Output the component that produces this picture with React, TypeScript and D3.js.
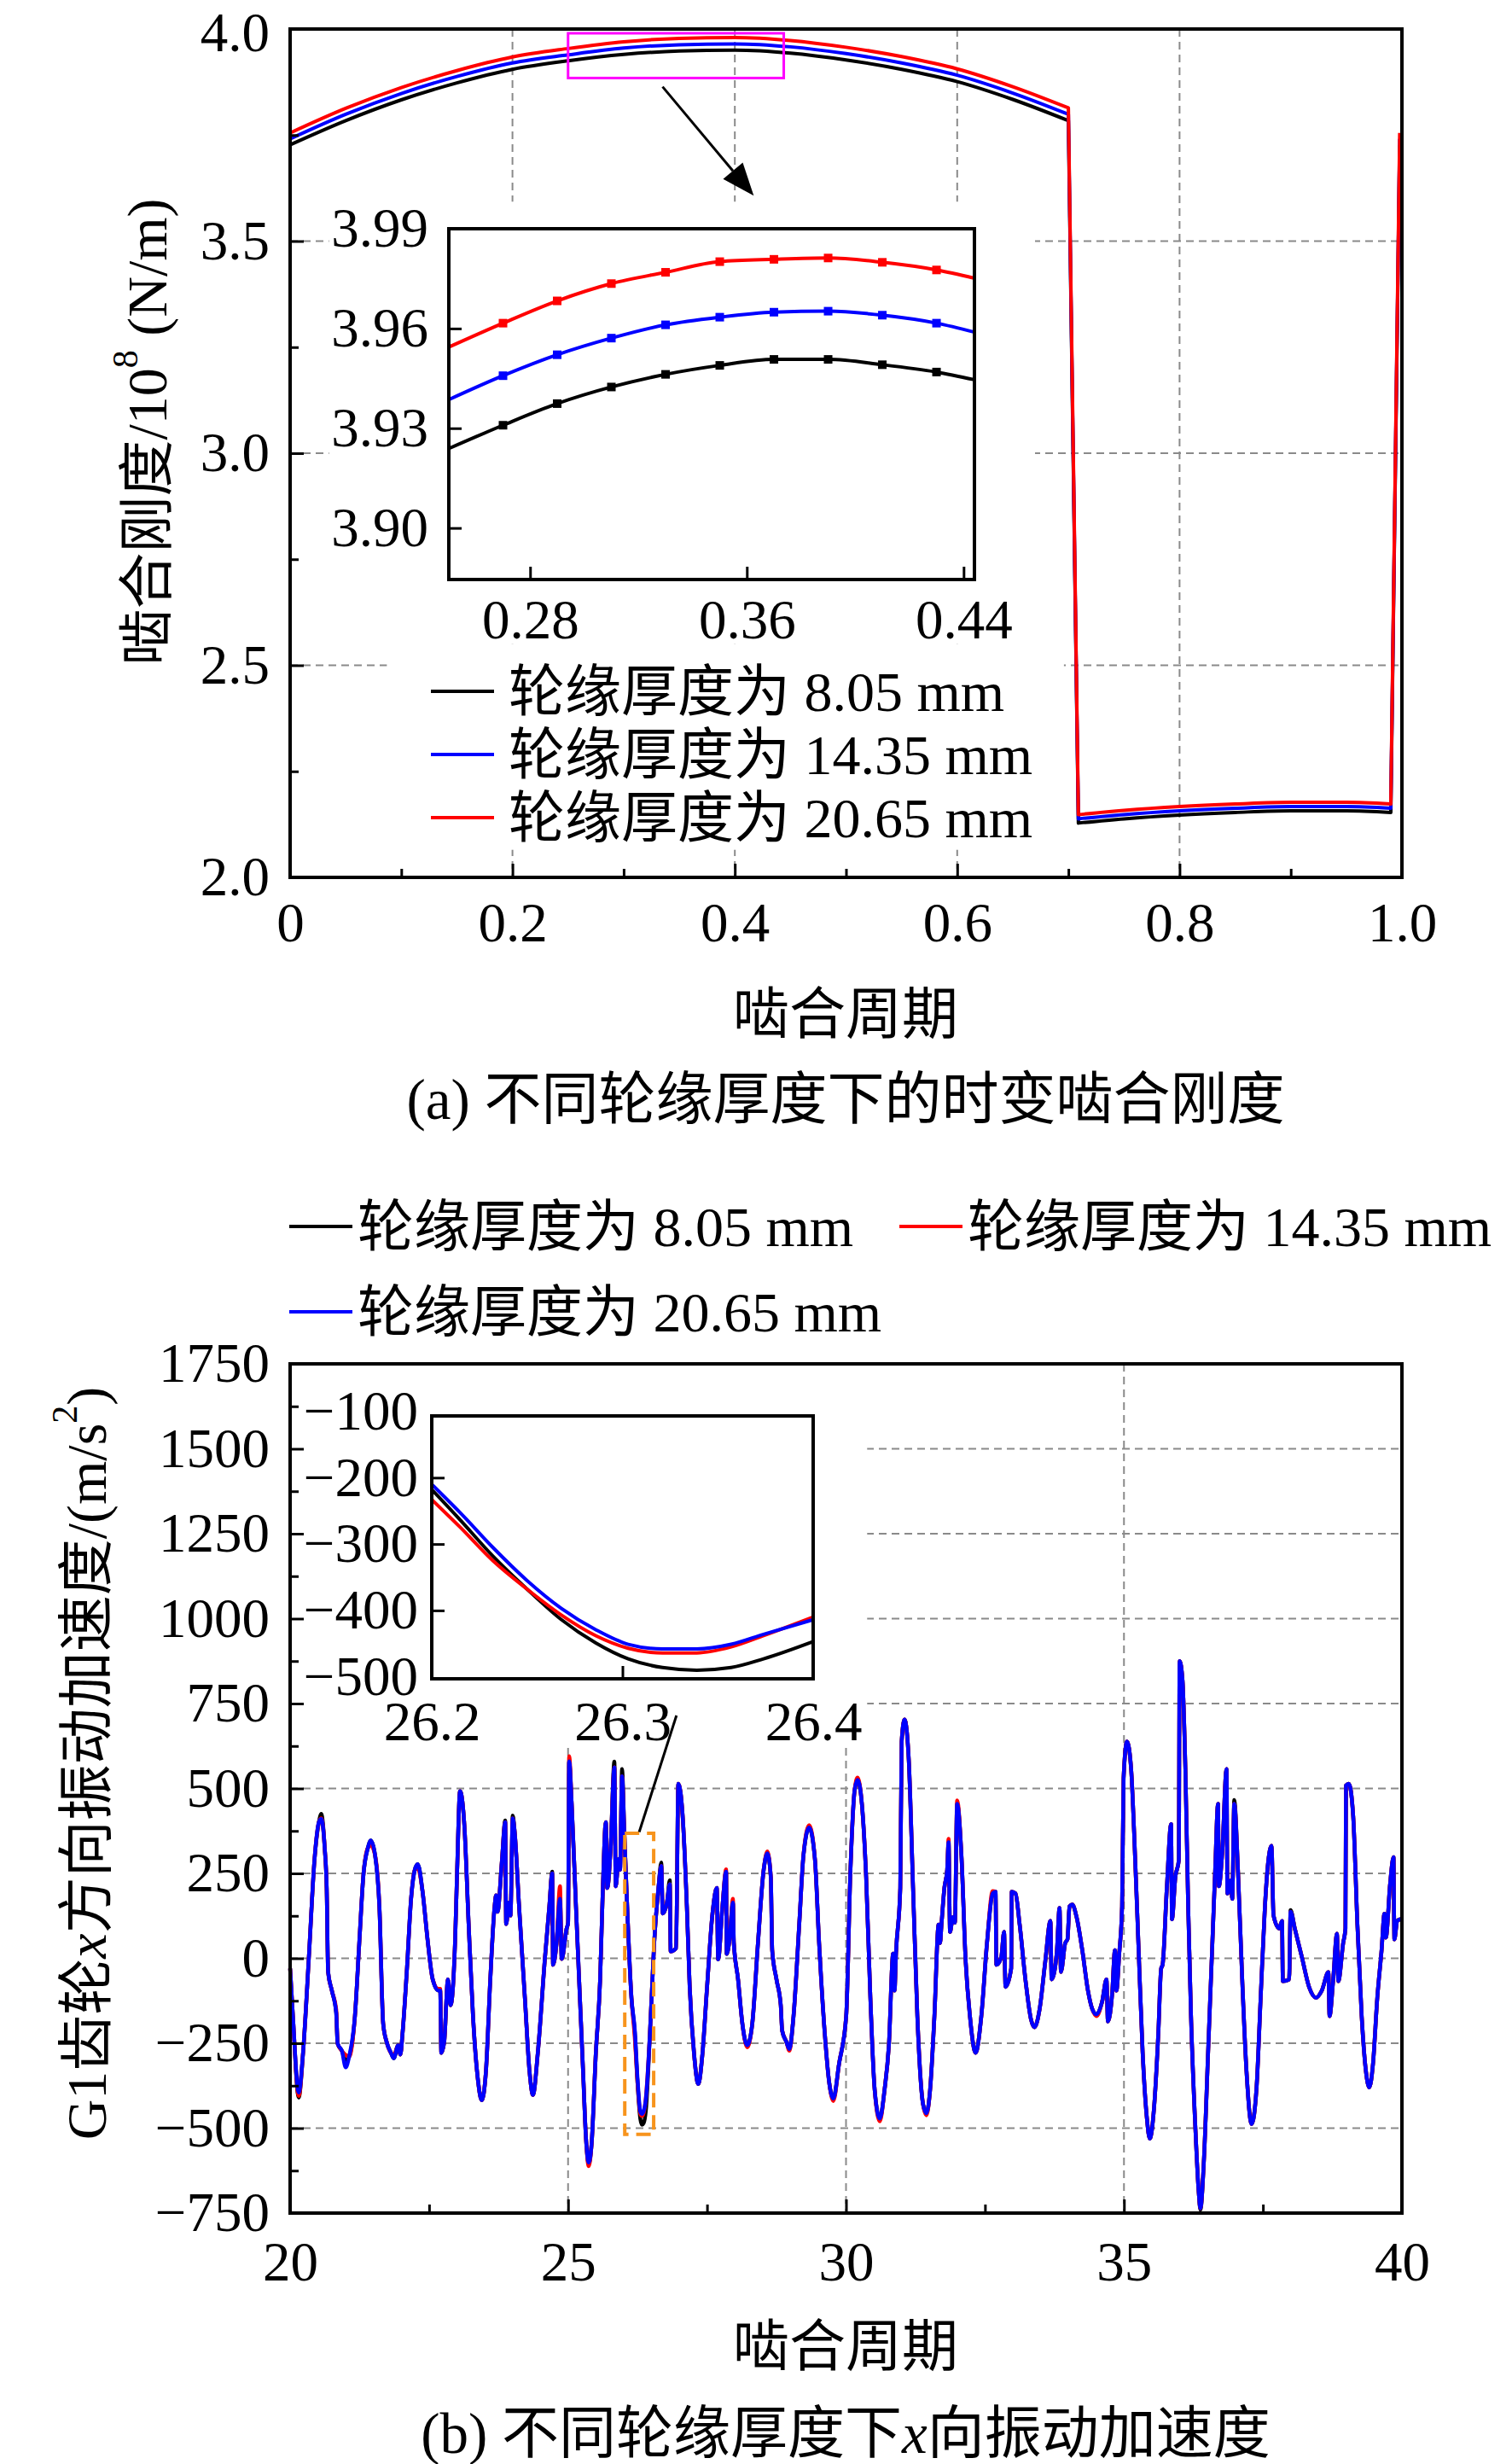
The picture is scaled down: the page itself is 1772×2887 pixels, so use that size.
import { useEffect, useRef } from 'react';
import * as d3 from 'd3';

const W = 1772;
const H = 2887;
const FONT = "'Liberation Serif', 'Times New Roman', 'Noto Sans CJK SC', serif";

// ---------- (a) time-varying mesh stiffness ----------
const stiffX = [0, 0.05, 0.1, 0.15, 0.2, 0.25, 0.3, 0.35, 0.4, 0.45, 0.5, 0.55, 0.6, 0.65, 0.7, 0.709, 0.75, 0.8, 0.85, 0.9, 0.95, 0.99, 0.998];
const stiffBlack = [3.727, 3.784, 3.833, 3.873, 3.905, 3.925, 3.94, 3.948, 3.95, 3.943, 3.927, 3.905, 3.876, 3.834, 3.784, 2.128, 2.138, 2.147, 2.153, 2.157, 2.157, 2.153, 3.727];
const stiffBlue = [3.741, 3.799, 3.848, 3.888, 3.92, 3.939, 3.955, 3.963, 3.965, 3.958, 3.942, 3.92, 3.891, 3.849, 3.799, 2.138, 2.148, 2.157, 2.163, 2.167, 2.167, 2.163, 3.741];
const stiffRed = [3.755, 3.813, 3.862, 3.902, 3.934, 3.954, 3.97, 3.978, 3.98, 3.973, 3.957, 3.935, 3.906, 3.864, 3.814, 2.148, 2.158, 2.167, 2.173, 2.177, 2.177, 2.173, 3.755];
// smooth runs of the stiffness curve (index ranges); jumps between them are straight
const stiffRuns = [[0, 14], [15, 21], [22, 22]];

const stiffInsetX = [0.25, 0.27, 0.29, 0.31, 0.33, 0.35, 0.37, 0.39, 0.41, 0.43, 0.444];
const stiffInsetBlack = [3.9239, 3.9309, 3.9374, 3.9424, 3.9462, 3.9489, 3.9507, 3.9507, 3.9491, 3.9469, 3.9446];
const stiffInsetBlue = [3.9386, 3.9458, 3.9521, 3.9571, 3.9611, 3.9634, 3.9649, 3.9652, 3.964, 3.9616, 3.9589];
const stiffInsetRed = [3.9544, 3.9616, 3.9683, 3.9735, 3.9769, 3.9801, 3.9808, 3.9812, 3.9799, 3.9776, 3.9751];

const topLegend = ['轮缘厚度为 8.05 mm', '轮缘厚度为 14.35 mm', '轮缘厚度为 20.65 mm'];
const topColors = ['#000000', '#0000ff', '#ff0000'];

// ---------- (b) x-direction vibration acceleration ----------
const accX = [
  20.0, 20.05, 20.155, 20.233, 20.337, 20.44, 20.518, 20.56, 20.622, 20.658,
  20.684, 20.751, 20.829, 20.855, 20.933, 21.0, 21.062, 21.166, 21.244, 21.321,
  21.399, 21.451, 21.528, 21.606, 21.674, 21.736, 21.813, 21.865, 21.943, 21.984,
  22.021, 22.098, 22.176, 22.244, 22.295, 22.383, 22.472, 22.565, 22.668, 22.7,
  22.72, 22.772, 22.839, 22.886, 22.969, 23.005, 23.057, 23.135, 23.212, 23.29,
  23.383, 23.446, 23.523, 23.601, 23.679, 23.705, 23.731, 23.808, 23.87, 23.886,
  23.938, 23.964, 24.005, 24.041, 24.119, 24.223, 24.306, 24.368, 24.456, 24.585,
  24.663, 24.715, 24.73, 24.793, 24.855, 24.886, 24.974, 25.0, 25.02, 25.065,
  25.142, 25.193, 25.27, 25.321, 25.372, 25.423, 25.5, 25.577, 25.628, 25.679,
  25.705, 25.766, 25.833, 25.858, 25.909, 25.935, 25.971, 26.012, 26.063, 26.14,
  26.2, 26.25, 26.3, 26.33, 26.36, 26.4, 26.472, 26.549, 26.626, 26.677,
  26.703, 26.779, 26.83, 26.846, 26.943, 26.984, 27.06, 27.137, 27.188, 27.265,
  27.342, 27.419, 27.496, 27.598, 27.675, 27.7, 27.777, 27.843, 27.854, 27.905,
  27.966, 27.982, 28.058, 28.135, 28.222, 28.314, 28.416, 28.519, 28.585, 28.647,
  28.672, 28.749, 28.826, 28.851, 28.928, 28.979, 29.056, 29.158, 29.235, 29.337,
  29.44, 29.516, 29.619, 29.696, 29.772, 29.875, 30.003, 30.08, 30.157, 30.208,
  30.285, 30.362, 30.438, 30.515, 30.607, 30.694, 30.771, 30.848, 30.873, 30.899,
  30.976, 31.001, 31.052, 31.129, 31.206, 31.283, 31.385, 31.446, 31.513, 31.59,
  31.666, 31.692, 31.717, 31.769, 31.82, 31.845, 31.871, 31.922, 31.958, 31.999,
  32.076, 32.152, 32.229, 32.331, 32.434, 32.536, 32.638, 32.69, 32.705, 32.792,
  32.843, 32.869, 32.971, 32.981, 33.048, 33.124, 33.227, 33.329, 33.39, 33.483,
  33.585, 33.677, 33.698, 33.79, 33.841, 33.866, 33.943, 33.984, 34.02, 34.071,
  34.148, 34.25, 34.352, 34.429, 34.506, 34.608, 34.685, 34.711, 34.787, 34.838,
  34.864, 34.915, 34.966, 34.993, 35.055, 35.131, 35.183, 35.259, 35.336, 35.413,
  35.464, 35.541, 35.617, 35.669, 35.695, 35.771, 35.848, 35.863, 35.924, 35.986,
  36.001, 36.052, 36.104, 36.155, 36.206, 36.283, 36.344, 36.375, 36.436, 36.513,
  36.59, 36.641, 36.692, 36.707, 36.769, 36.845, 36.861, 36.922, 36.948, 36.984,
  37.05, 37.127, 37.204, 37.296, 37.383, 37.459, 37.536, 37.587, 37.654, 37.69,
  37.792, 37.843, 37.858, 37.971, 37.997, 38.073, 38.201, 38.329, 38.457, 38.559,
  38.677, 38.698, 38.764, 38.831, 38.856, 38.943, 38.984, 38.994, 39.045, 39.122,
  39.199, 39.276, 39.352, 39.414, 39.48, 39.557, 39.634, 39.685, 39.711, 39.787,
  39.849, 39.864, 39.915, 39.966, 40.0,
];

const accBlue = [
  -30, -170, -395, -278, 2, 293, 401, 410, 325, 207,
  -41, -95, -160, -251, -273, -321, -289, -170, 45, 250,
  325, 347, 304, 153, -192, -246, -278, -294, -256, -283,
  -224, -41, 175, 261, 277, 196, 56, -62, -95, -95,
  -278, -246, -62, -138, 56, 261, 492, 390, 99, -170,
  -364, -418, -332, -62, 153, 185, 137, 282, 401, 101,
  164, 126, 412, 369, 153, -116, -332, -402, -278, 3,
  153, 250, -19, 45, 175, -2, 88, 104, 580, 455,
  153, -41, -332, -526, -601, -547, -278, -62, 218, 401,
  207, 325, 562, 212, 293, 261, 536, 369, 153, -116,
  -210, -355, -451, -458, -450, -414, -224, 45, 207, 272,
  132, 164, 218, 20, 30, 514, 422, 153, -84, -278,
  -370, -278, -95, 132, 207, -3, 153, 255, 13, 56,
  164, 45, -62, -192, -256, -192, 45, 261, 309, 239,
  24, -62, -138, -213, -246, -267, -170, 99, 304, 385,
  293, 45, -224, -364, -413, -310, -170, 261, 498, 525,
  455, 239, -116, -386, -472, -386, -256, 14, -95, 14,
  207, 638, 703, 584, 207, -170, -429, -456, -386, -170,
  99, 45, 99, 207, 261, 342, 78, 121, 105, 455,
  304, -8, -170, -278, -170, 45, 191, 196, -19, 3,
  78, -84, -30, 196, 191, 99, -62, -181, -203, -149,
  -8, 110, -62, 14, 148, -40, 45, 56, 153, 158,
  121, 24, -95, -149, -165, -127, -62, -186, -105, 24,
  -95, 14, 153, 530, 638, 552, 369, 45, -278, -472,
  -531, -440, -224, -30, -19, 207, 395, 115, 239, 288,
  875, 821, 562, 153, -170, -494, -687, -736, -601, -278,
  45, 261, 455, 212, 315, 557, 191, 229, 175, 455,
  261, -62, -332, -488, -386, -116, 153, 272, 331, 126,
  88, 110, -67, -62, 137, 88, 3, -84, -116, -95,
  -41, -170, -62, 72, -67, 45, 88, 509, 514, 422,
  99, -170, -332, -380, -310, -116, 24, 131, 61, 218,
  298, 56, 110, 115, 110,
];

const accBlack = [
  -30, -170, -410, -278, 2, 293, 401, 425, 325, 207,
  -41, -95, -160, -251, -273, -300, -289, -170, 45, 250,
  325, 347, 304, 153, -192, -246, -278, -294, -256, -283,
  -224, -41, 175, 261, 277, 196, 56, -62, -95, -95,
  -278, -246, -62, -138, 56, 261, 492, 390, 99, -170,
  -364, -418, -332, -62, 153, 185, 137, 282, 406, 101,
  164, 126, 420, 369, 153, -116, -332, -402, -278, 3,
  153, 255, -19, 45, 175, -2, 88, 104, 580, 455,
  153, -41, -332, -526, -605, -547, -278, -62, 218, 401,
  207, 325, 579, 212, 293, 261, 557, 369, 153, -116,
  -218, -368, -473, -490, -485, -447, -224, 45, 207, 282,
  132, 164, 230, 20, 30, 514, 422, 153, -84, -278,
  -370, -278, -95, 132, 207, -3, 153, 255, 13, 56,
  164, 45, -62, -192, -256, -192, 45, 261, 309, 239,
  24, -62, -138, -213, -246, -267, -170, 99, 304, 385,
  293, 45, -224, -364, -413, -310, -170, 261, 498, 525,
  455, 239, -116, -386, -472, -386, -256, 14, -95, 14,
  207, 638, 703, 584, 207, -170, -429, -456, -386, -170,
  99, 45, 99, 207, 261, 342, 78, 121, 105, 455,
  304, -8, -170, -278, -170, 45, 191, 196, -19, 3,
  78, -84, -30, 196, 191, 99, -62, -181, -203, -149,
  -8, 110, -62, 14, 148, -40, 45, 56, 153, 158,
  121, 24, -95, -149, -165, -127, -62, -186, -105, 24,
  -95, 14, 153, 530, 638, 552, 369, 45, -278, -472,
  -531, -440, -224, -30, -19, 207, 395, 115, 239, 288,
  875, 821, 562, 153, -170, -494, -687, -740, -601, -278,
  45, 261, 455, 212, 315, 557, 191, 229, 175, 466,
  261, -62, -332, -488, -386, -116, 153, 272, 331, 126,
  88, 110, -67, -62, 142, 88, 3, -84, -116, -95,
  -41, -170, -62, 72, -67, 45, 88, 509, 514, 422,
  99, -170, -332, -380, -310, -116, 24, 131, 61, 218,
  298, 56, 110, 115, 110,
];

const accRed = [
  -30, -170, -405, -278, 2, 293, 401, 412, 325, 207,
  -41, -95, -150, -251, -273, -285, -289, -170, 45, 250,
  325, 332, 304, 153, -192, -246, -278, -285, -256, -283,
  -224, -41, 175, 261, 265, 196, 56, -62, -90, -90,
  -278, -246, -62, -138, 56, 261, 492, 390, 99, -170,
  -364, -418, -332, -62, 153, 185, 137, 282, 401, 101,
  164, 126, 412, 369, 153, -116, -332, -402, -278, 3,
  153, 250, -19, 45, 212, -2, 88, 104, 595, 455,
  153, -41, -332, -526, -612, -547, -278, -62, 218, 401,
  207, 325, 562, 212, 293, 261, 536, 369, 153, -116,
  -233, -368, -457, -464, -455, -410, -224, 45, 207, 272,
  132, 164, 218, 20, 30, 514, 422, 153, -84, -278,
  -370, -278, -95, 132, 207, -3, 153, 262, 13, 56,
  175, 45, -62, -192, -262, -192, 45, 261, 315, 239,
  24, -62, -138, -213, -246, -272, -170, 99, 304, 392,
  293, 45, -224, -364, -420, -310, -170, 261, 498, 532,
  455, 239, -116, -386, -480, -386, -256, 14, -95, 14,
  207, 638, 703, 584, 207, -170, -429, -462, -386, -170,
  99, 45, 99, 207, 261, 352, 78, 121, 105, 465,
  304, -8, -170, -278, -170, 45, 198, 196, -19, 3,
  78, -84, -30, 196, 191, 99, -62, -181, -203, -149,
  -8, 110, -62, 14, 148, -40, 45, 56, 153, 158,
  121, 24, -95, -149, -170, -127, -62, -186, -105, 24,
  -95, 14, 153, 530, 638, 552, 369, 45, -278, -472,
  -531, -440, -224, -30, -19, 207, 395, 115, 239, 288,
  875, 821, 562, 153, -170, -494, -687, -736, -601, -278,
  45, 261, 455, 212, 315, 557, 191, 229, 175, 455,
  261, -62, -332, -488, -386, -116, 153, 272, 331, 126,
  88, 110, -67, -62, 137, 88, 3, -84, -116, -95,
  -41, -170, -62, 72, -67, 45, 88, 509, 514, 422,
  99, -170, -332, -380, -310, -116, 24, 131, 61, 218,
  298, 56, 110, 115, 110,
];

const accInsetX = [26.2, 26.215, 26.232, 26.25, 26.268, 26.286, 26.303, 26.321, 26.339, 26.357, 26.374, 26.4];
const accInsetBlack = [-218, -264, -318, -368, -414, -449, -473, -486, -490, -486, -473, -447];
const accInsetRed = [-233, -275, -325, -368, -407, -438, -457, -464, -464, -455, -438, -410];
const accInsetBlue = [-210, -253, -305, -355, -397, -429, -451, -458, -458, -451, -436, -414];

const bottomLegend = ['轮缘厚度为 8.05 mm', '轮缘厚度为 14.35 mm', '轮缘厚度为 20.65 mm'];
const bottomColors = ['#000000', '#ff0000', '#0000ff'];

type Sel = d3.Selection<any, unknown, null, undefined>;

const TICK_FONT = 65;
const TEXT_FONT = 66;

function axesFrame(g: Sel, x: any, y: any, o: any) {
  const [x0, x1] = x.range();
  const [yb, yt] = y.range();
  const ax = g.append('g');
  ax.append('g').attr('transform', `translate(0,${yb})`)
    .call(d3.axisBottom(x).tickValues(o.xMajor).tickSize(-o.major).tickPadding(o.xPad).tickFormat(o.xFmt));
  if (o.xMinor) {
    ax.append('g').attr('transform', `translate(0,${yb})`)
      .call(d3.axisBottom(x).tickValues(o.xMinor).tickSize(-o.minor).tickFormat(() => ''));
  }
  const left = ax.append('g').attr('transform', `translate(${x0},0)`)
    .call(d3.axisLeft(y).tickValues(o.yMajor).tickSize(-o.major).tickPadding(o.yPad).tickFormat(o.yFmt));
  if (o.yMinor) {
    ax.append('g').attr('transform', `translate(${x0},0)`)
      .call(d3.axisLeft(y).tickValues(o.yMinor).tickSize(-o.minor).tickFormat(() => ''));
  }
  ax.selectAll('.domain').remove();
  ax.selectAll('.tick line').attr('stroke', '#000').attr('stroke-width', 3);
  ax.selectAll('.tick text').attr('fill', '#000')
    .style('font-family', FONT).style('font-size', `${o.font}px`);
  if (o.hideTick) {
    ax.selectAll('.tick').filter((d: any) => o.hideTick(d)).select('line').remove();
  }
  if (o.nudgeTop) {
    // keep the top label inside the page
    left.selectAll('.tick').filter((d: any) => d === o.yMajor[o.yMajor.length - 1])
      .select('text').attr('y', o.nudgeTop);
  }
  g.append('rect')
    .attr('x', x0).attr('y', yt).attr('width', x1 - x0).attr('height', yb - yt)
    .attr('fill', 'none').attr('stroke', '#000').attr('stroke-width', 4);
}

function grid(g: Sel, x: any, y: any, gx: number[], gy: number[]) {
  const [x0, x1] = x.range();
  const [yb, yt] = y.range();
  g.selectAll(null).data(gx).enter().append('line')
    .attr('x1', d => x(d)).attr('x2', d => x(d)).attr('y1', yt).attr('y2', yb)
    .attr('stroke', '#8a8a8a').attr('stroke-width', 2).attr('stroke-dasharray', '9,6');
  g.selectAll(null).data(gy).enter().append('line')
    .attr('x1', x0).attr('x2', x1).attr('y1', d => y(d)).attr('y2', d => y(d))
    .attr('stroke', '#8a8a8a').attr('stroke-width', 2).attr('stroke-dasharray', '9,6');
}

function series(g: Sel, x: any, y: any, xs: number[], ys: number[], color: string, w: number, runs?: number[][]) {
  const line = d3.line<number>()
    .x(i => x(xs[i]))
    .y(i => y(ys[i]))
    .curve(d3.curveMonotoneX);
  const parts = (runs || [[0, xs.length - 1]]).map(([a, b]) =>
    b > a ? (line(d3.range(a, b + 1)) as string) : `M${x(xs[a])},${y(ys[a])}`);
  const d = parts.map((p, k) => (k ? p.replace(/^M/, 'L') : p)).join('');
  g.append('path')
    .attr('fill', 'none').attr('stroke', color).attr('stroke-width', w)
    .attr('stroke-linejoin', 'round').attr('d', d);
}

function drawTop(svg: Sel) {
  const x = d3.scaleLinear().domain([0, 1]).range([340, 1643]);
  const y = d3.scaleLinear().domain([2, 4]).range([1028, 34]);
  const g = svg.append('g');

  grid(g, x, y, [0.2, 0.4, 0.6, 0.8], [2.5, 3.0, 3.5]);

  // white panels behind inset and legend
  g.append('rect').attr('x', x(0.035)).attr('y', y(3.593))
    .attr('width', x(0.67) - x(0.035)).attr('height', y(2.55) - y(3.593)).attr('fill', '#fff');
  g.append('rect').attr('x', x(0.087)).attr('y', y(2.55))
    .attr('width', x(0.696) - x(0.087)).attr('height', y(2.065) - y(2.55)).attr('fill', '#fff');

  series(g, x, y, stiffX, stiffBlack, topColors[0], 4, stiffRuns);
  series(g, x, y, stiffX, stiffBlue, topColors[1], 4, stiffRuns);
  series(g, x, y, stiffX, stiffRed, topColors[2], 4, stiffRuns);

  axesFrame(g, x, y, {
    xMajor: [0, 0.2, 0.4, 0.6, 0.8, 1.0], xMinor: [0.1, 0.3, 0.5, 0.7, 0.9],
    yMajor: [2.0, 2.5, 3.0, 3.5, 4.0], yMinor: [2.25, 2.75, 3.25, 3.75],
    xFmt: (d: number) => (d === 0 ? '0' : d.toFixed(1)), yFmt: (d: number) => d.toFixed(1),
    major: 16, minor: 10, xPad: 29, yPad: 24, font: TICK_FONT, nudgeTop: 5,
  });

  // zoom box
  const [ix0, ix1] = [stiffInsetX[0], stiffInsetX[stiffInsetX.length - 1]];
  g.append('rect').attr('x', x(ix0)).attr('y', y(3.99))
    .attr('width', x(ix1) - x(ix0)).attr('height', y(3.8845) - y(3.99))
    .attr('fill', 'none').attr('stroke', '#ff00ff').attr('stroke-width', 3);

  // arrow
  const p1 = [x(0.335), y(3.864)];
  const p2 = [x(0.417), y(3.607)];
  const ang = Math.atan2(p2[1] - p1[1], p2[0] - p1[0]);
  const hl = 38, hw = 15;
  const bx = p2[0] - hl * Math.cos(ang), by = p2[1] - hl * Math.sin(ang);
  g.append('line').attr('x1', p1[0]).attr('y1', p1[1]).attr('x2', bx).attr('y2', by)
    .attr('stroke', '#000').attr('stroke-width', 3);
  g.append('polygon')
    .attr('points', [
      [p2[0], p2[1]],
      [bx + hw * Math.sin(ang), by - hw * Math.cos(ang)],
      [bx - hw * Math.sin(ang), by + hw * Math.cos(ang)],
    ].map(p => p.join(',')).join(' '))
    .attr('fill', '#000');

  // inset
  const xi = d3.scaleLinear().domain([0.25, 0.444]).range([526, 1142]);
  const yi = d3.scaleLinear().domain([3.8845, 3.99]).range([679, 268]);
  const gi = g.append('g');
  gi.append('rect').attr('x', 526).attr('y', 268).attr('width', 616).attr('height', 411).attr('fill', '#fff');
  const insetSets: [number[], string][] = [
    [stiffInsetBlack, topColors[0]], [stiffInsetBlue, topColors[1]], [stiffInsetRed, topColors[2]],
  ];
  insetSets.forEach(([vals, c]) => {
    series(gi, xi, yi, stiffInsetX, vals, c, 4);
    gi.selectAll(null).data(vals.slice(1, -1)).enter().append('rect')
      .attr('x', (_, i) => xi(stiffInsetX[i + 1]) - 5).attr('y', d => yi(d) - 5)
      .attr('width', 10).attr('height', 10).attr('fill', c);
  });
  axesFrame(gi, xi, yi, {
    xMajor: [0.28, 0.36, 0.44], yMajor: [3.9, 3.93, 3.96, 3.99],
    xFmt: (d: number) => d.toFixed(2), yFmt: (d: number) => d.toFixed(2),
    major: 15, minor: 0, xPad: 23, yPad: 24, font: TICK_FONT,
  });

  // legend
  const lg = g.append('g');
  topLegend.forEach((t, i) => {
    const yy = 810 + i * 74;
    lg.append('line').attr('x1', 505).attr('x2', 579).attr('y1', yy).attr('y2', yy)
      .attr('stroke', topColors[i]).attr('stroke-width', 4);
    lg.append('text').attr('x', 596).attr('y', yy).attr('dominant-baseline', 'central')
      .style('font-family', FONT).style('font-size', `${TEXT_FONT}px`).text(t);
  });

  // titles
  g.append('text').attr('x', 991).attr('y', 1188).attr('text-anchor', 'middle')
    .attr('dominant-baseline', 'central').style('font-family', FONT).style('font-size', `${TEXT_FONT}px`)
    .text('啮合周期');
  g.append('text').attr('x', 991).attr('y', 1288).attr('text-anchor', 'middle')
    .attr('dominant-baseline', 'central').style('font-family', FONT).style('font-size', '67px')
    .text('(a) 不同轮缘厚度下的时变啮合刚度');
  const yt = g.append('text').attr('transform', 'translate(172,506) rotate(-90)')
    .attr('text-anchor', 'middle').attr('dominant-baseline', 'central')
    .style('font-family', FONT).style('font-size', `${TEXT_FONT}px`);
  yt.append('tspan').text('啮合刚度/10');
  yt.append('tspan').attr('dy', -25).style('font-size', '42px').text('8');
  yt.append('tspan').attr('dy', 25).text(' (N/m)');
}

function drawBottom(svg: Sel) {
  const x = d3.scaleLinear().domain([20, 40]).range([340, 1643]);
  const y = d3.scaleLinear().domain([-750, 1750]).range([2593, 1598]);
  const g = svg.append('g');

  grid(g, x, y, [25, 30, 35], [-500, -250, 0, 250, 500, 750, 1000, 1250, 1500]);
  g.append('rect').attr('x', x(20)).attr('y', y(1750))
    .attr('width', x(30.38) - x(20)).attr('height', y(630) - y(1750)).attr('fill', '#fff');

  series(g, x, y, accX, accBlack, bottomColors[0], 4.5);
  series(g, x, y, accX, accRed, bottomColors[1], 4.5);
  series(g, x, y, accX, accBlue, bottomColors[2], 4.5);

  // dashed zoom box + leader
  g.append('rect').attr('x', x(26.02)).attr('y', y(368))
    .attr('width', x(26.54) - x(26.02)).attr('height', y(-518) - y(368))
    .attr('fill', 'none').attr('stroke', '#f7941d').attr('stroke-width', 4)
    .attr('stroke-dasharray', '17,9');
  g.append('line').attr('x1', x(26.28)).attr('y1', y(372)).attr('x2', x(26.95)).attr('y2', y(715))
    .attr('stroke', '#000').attr('stroke-width', 3);

  axesFrame(g, x, y, {
    xMajor: [20, 25, 30, 35, 40], xMinor: [22.5, 27.5, 32.5, 37.5],
    yMajor: d3.range(-750, 1751, 250), yMinor: d3.range(-625, 1750, 250),
    xFmt: (d: number) => String(d), yFmt: d3.format('d'),
    major: 16, minor: 10, xPad: 33, yPad: 24, font: TICK_FONT,
  });

  // inset
  const xi = d3.scaleLinear().domain([26.2, 26.4]).range([506, 953]);
  const yi = d3.scaleLinear().domain([-503, -107]).range([1967, 1659]);
  const gi = g.append('g');
  gi.append('rect').attr('x', 506).attr('y', 1659).attr('width', 447).attr('height', 308).attr('fill', '#fff');
  series(gi, xi, yi, accInsetX, accInsetBlack, bottomColors[0], 4);
  series(gi, xi, yi, accInsetX, accInsetRed, bottomColors[1], 4);
  series(gi, xi, yi, accInsetX, accInsetBlue, bottomColors[2], 4);
  axesFrame(gi, xi, yi, {
    xMajor: [26.2, 26.3, 26.4], yMajor: [-100, -200, -300, -400, -500],
    xFmt: (d: number) => d.toFixed(1), yFmt: d3.format('d'),
    major: 15, minor: 0, xPad: 26, yPad: 16, font: TICK_FONT,
    hideTick: (d: number) => d === -100 || d === -500 || d === 26.2 || d === 26.4,
  });

  // legend above plot
  const lg = g.append('g');
  const pos = [[339, 1437], [1054, 1437], [339, 1537]];
  bottomLegend.forEach((t, i) => {
    const [lx, ly] = pos[i];
    lg.append('line').attr('x1', lx).attr('x2', lx + 74).attr('y1', ly).attr('y2', ly)
      .attr('stroke', bottomColors[i]).attr('stroke-width', 4);
    lg.append('text').attr('x', lx + 80).attr('y', ly).attr('dominant-baseline', 'central')
      .style('font-family', FONT).style('font-size', `${TEXT_FONT}px`).text(t);
  });

  g.append('text').attr('x', 991).attr('y', 2749).attr('text-anchor', 'middle')
    .attr('dominant-baseline', 'central').style('font-family', FONT).style('font-size', `${TEXT_FONT}px`)
    .text('啮合周期');
  const cap = g.append('text').attr('x', 991).attr('y', 2851).attr('text-anchor', 'middle')
    .attr('dominant-baseline', 'central').style('font-family', FONT).style('font-size', '67px');
  cap.append('tspan').text('(b) 不同轮缘厚度下');
  cap.append('tspan').style('font-style', 'italic').text('x');
  cap.append('tspan').text('向振动加速度');

  const yt = g.append('text').attr('transform', 'translate(101,2066) rotate(-90)')
    .attr('text-anchor', 'middle').attr('dominant-baseline', 'central')
    .style('font-family', FONT).style('font-size', `${TEXT_FONT}px`);
  yt.append('tspan').text('G1齿轮');
  yt.append('tspan').style('font-style', 'italic').text('x');
  yt.append('tspan').text('方向振动加速度/(m/s');
  yt.append('tspan').attr('dy', -25).style('font-size', '42px').text('2');
  yt.append('tspan').attr('dy', 25).text(')');
}

export default function App() {
  const svgRef = useRef<SVGSVGElement>(null);

  useEffect(() => {
    if (!svgRef.current) return;
    const svg = d3.select(svgRef.current);
    svg.selectAll('*').remove();
    svg.append('rect').attr('width', W).attr('height', H).attr('fill', '#fff');
    drawTop(svg as any);
    drawBottom(svg as any);
  }, []);

  return (
    <svg
      ref={svgRef}
      width={W}
      height={H}
      style={{ position: 'absolute', left: 0, top: 0, background: '#fff' }}
    />
  );
}
